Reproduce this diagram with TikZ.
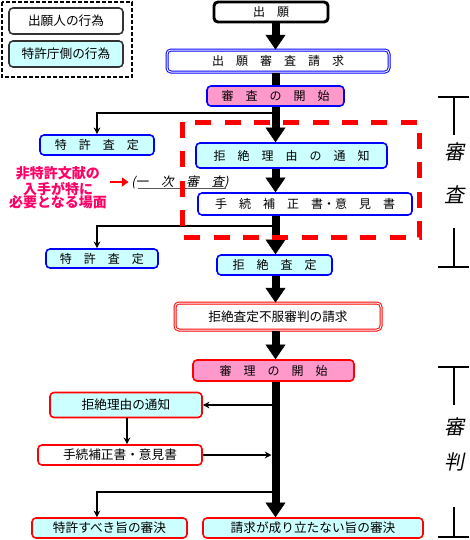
\documentclass[tikz,border=0pt]{standalone}
\usepackage{fontspec}
\setmainfont{Noto Sans CJK JP}
\newfontfamily\slantjp[FakeSlant=0.2]{Noto Sans CJK JP}
\usetikzlibrary{arrows.meta}
\definecolor{officecyan}{HTML}{CCFFFF}
\definecolor{startpink}{HTML}{FF99CC}
\definecolor{notered}{HTML}{FF0066}

\def\spinex{275.5}

\begin{document}
\begin{tikzpicture}[x=0.75pt,y=-0.75pt]
    \tikzstyle{box}=[rectangle,rounded corners=3pt,draw,line width=1.2pt,inner sep=0pt,font=\fontsize{9}{11}\selectfont]
    \tikzstyle{exam box}=[box,draw=blue]
    \tikzstyle{trial box}=[box,draw=red,font=\fontsize{9.5}{11}\selectfont]
    \tikzstyle{office}=[fill=officecyan]
    \tikzstyle{opening}=[fill=startpink]
    \tikzstyle{doubled}=[line width=0.75pt,double=white,double distance=0.75pt]
    \tikzstyle{flow}=[line width=6pt,-{Triangle[width=15pt,length=11pt,line width=0.4pt]}]
    \tikzstyle{shaft}=[line width=6pt]
    \tikzstyle{branch}=[line width=1.2pt,-{Stealth[width=5pt,length=5pt]}]
    \tikzstyle{phase}=[font=\slantjp\fontsize{15}{15}\selectfont,inner sep=0pt]

    \useasboundingbox (0,0) rectangle (469,540);

    % Draw the legend
    \draw[line width=1.2pt,dash pattern=on 3pt off 1.5pt] (2,2) rectangle (132,77);
    \node[box,draw=black!80,minimum width=85.5pt,minimum height=19.5pt,font=\fontsize{9.5}{11}\selectfont] (legA) at (66,21) {出願人の行為};
    \node[box,office,draw=black!80,minimum width=85.5pt,minimum height=19.5pt,font=\fontsize{9.5}{11}\selectfont] (legB) at (66,54) {特許庁側の行為};

    % Draw the examination nodes
    \coordinate (spine) at (\spinex,0);
    \coordinate (spinewest) at (271.5,0);
    \node[box,line width=2.2pt,minimum width=85.5pt,minimum height=15pt] (app) at (271,12) {出　願};
    \node[exam box,doubled,minimum width=166.5pt,minimum height=16.5pt] (req) at (278,61) {出　願　審　査　請　求};
    \node[exam box,opening,minimum width=102.75pt,minimum height=15pt] (start) at (275.5,96) {審　査　の　開　始};
    \node[exam box,office,minimum width=85.5pt,minimum height=15pt] (pat1) at (97,145) {特　許　査　定};
    \node[exam box,office,minimum width=143.25pt,minimum height=18.75pt] (reason1) at (291.5,155.5) {拒　絶　理　由　の　通　知};
    \node[exam box,minimum width=160.5pt,minimum height=16.5pt] (amend1) at (305,204) {手　続　補　正　書・意　見　書};
    \node[exam box,office,minimum width=84pt,minimum height=14.25pt] (pat2) at (102,258.5) {特　許　査　定};
    \node[exam box,office,minimum width=86.25pt,minimum height=15pt] (reject) at (274.5,265) {拒　絶　査　定};

    % Draw the trial nodes
    \node[trial box,doubled,minimum width=154.5pt,minimum height=20.25pt] (appeal) at (278,316.5) {拒絶査定不服審判の請求};
    \node[trial box,opening,minimum width=120.75pt,minimum height=15.75pt,font=\fontsize{9}{11}\selectfont] (trial) at (273.5,370.5) {審　理　の　開　始};
    \node[trial box,office,minimum width=114pt,minimum height=18.75pt] (reason2) at (126,405) {拒絶理由の通知};
    \node[trial box,minimum width=123pt,minimum height=15pt] (amend2) at (120,455) {手続補正書・意見書};
    \node[trial box,office,minimum width=116.25pt,minimum height=15pt] (grant) at (109.5,528) {特許すべき旨の審決};
    \node[trial box,office,minimum width=165pt,minimum height=15pt] (dismiss) at (313,528) {請求が成り立たない旨の審決};

    % Main flow down the spine
    \draw[flow] (app.south -| spine) -- (req.north -| spine);
    \draw[shaft] (req.south -| spine) -- (start.north -| spine);
    \draw[flow] (start.south -| spine) -- (reason1.north -| spine);
    \draw[flow] (reason1.south -| spine) -- (amend1.north -| spine);
    \draw[flow] (amend1.south -| spine) -- (reject.north -| spine);
    \draw[flow] (reject.south -| spine) -- (appeal.north -| spine);
    \draw[flow] (appeal.south -| spine) -- (trial.north -| spine);
    \draw[flow] (trial.south -| spine) -- (dismiss.north -| spine);

    % Branches off the spine
    \coordinate (b1) at (\spinex,113);
    \coordinate (b2) at (\spinex,226);
    \coordinate (b3) at (\spinex,405);
    \coordinate (b5) at (\spinex,492);
    \draw[branch] (b1) -| (pat1.north);
    \draw[branch] (b2) -| ([xshift=-3.75pt]pat2.north);
    \draw[branch] (b3) -- (reason2.east);
    \draw[branch] ([xshift=0.75pt]reason2.south) -- ([xshift=0.75pt]reason2.south |- amend2.north);
    \draw[branch] (amend2.east) -- (amend2.east -| spinewest);
    \draw[branch] (b5) -| ([xshift=-9.4pt]grant.north);

    % Annotate the first examination
    \node[text=notered,font=\bfseries\fontsize{10.5}{10.2}\selectfont,align=center,inner sep=0pt] (note) at (58,188) {非特許文献の\\入手が特に\\必要となる場面};
    \node[inner sep=0pt,font=\slantjp\fontsize{9.5}{11}\selectfont] (first) at (180,182) {(一　次　審　査)};
    \draw[gray!70!black,line width=0.9pt] ([xshift=5pt]first.south west) -- ([xshift=-2pt]first.south east);
    \draw[red,line width=2.2pt,shorten <=2pt,shorten >=2pt,-{Triangle[width=7pt,length=5pt,line width=0.4pt]}] (note.east |- first.west) -- (first.west);
    \draw[red,line width=3.75pt,dash pattern=on 12pt off 10pt] (182,122) rectangle (419,237);

    % Annotate the two phases
    \node[phase] (ex1) at (454,152) {審};
    \node[phase] (ex2) at (454,195) {査};
    \draw[line width=0.8pt] (438,97) -- (469,97) (454,97) -- (454,135);
    \draw[line width=0.8pt] (454,228) -- (454,267) (438,267) -- (469,267);
    \node[phase] (tr1) at (454,427) {審};
    \node[phase] (tr2) at (454,462) {判};
    \draw[line width=0.8pt] (438,367) -- (469,367) (454,367) -- (454,405);
    \draw[line width=0.8pt] (454,507) -- (454,537) (438,537) -- (469,537);
\end{tikzpicture}
\end{document}
